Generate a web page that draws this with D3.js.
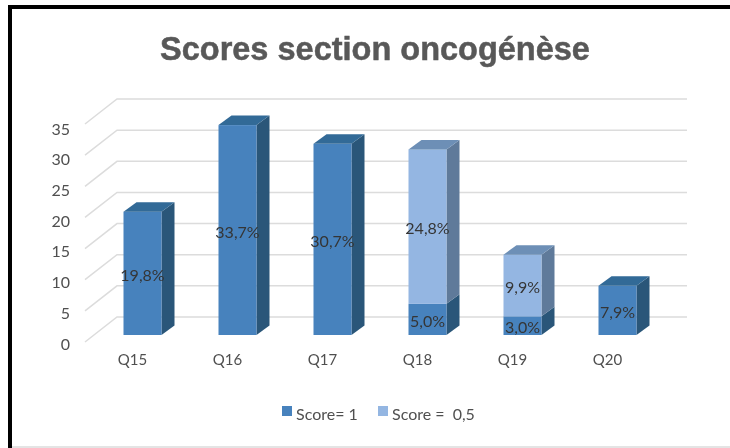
<!DOCTYPE html>
<meta charset="utf-8">
<style>
  body { margin: 0; background: #fff; }
  svg { display: block; }
  text { font-family: Lato, sans-serif; }
</style>
<script src="https://d3js.org/d3.v7.min.js"></script>
<div id="chart"></div>
<script>
var categories = ["Q15", "Q16", "Q17", "Q18", "Q19", "Q20"];
var score1 = [19.8, 33.7, 30.7, 5.0, 3.0, 7.9];
var score05 = [0, 0, 0, 24.8, 9.9, 0];
var seriesNames = ["Score= 1", "Score =  0,5"];
var yTicks = [0, 5, 10, 15, 20, 25, 30, 35];
var titleText = "Scores section oncogénèse";

var width = 730, height = 448;

var svg = d3.select("#chart").append("svg")
  .attr("width", width)
  .attr("height", height);

var defs = svg.append("defs");
defs.append("filter").attr("id", "soft")
  .attr("x", "-5%").attr("y", "-5%").attr("width", "110%").attr("height", "110%")
  .append("feGaussianBlur").attr("stdDeviation", 0.7);

var root = svg.append("g").attr("filter", "url(#soft)");

// picture frame
root.append("rect").attr("x", 12).attr("y", 446).attr("width", 718).attr("height", 2).attr("fill", "#e4e4e4");
root.append("rect").attr("x", 8).attr("y", 5).attr("width", 722).attr("height", 4).attr("fill", "#000");
root.append("rect").attr("x", 8).attr("y", 5).attr("width", 4).attr("height", 443).attr("fill", "#000");

root.append("text")
  .attr("x", 375).attr("y", 60)
  .attr("text-anchor", "middle")
  .style("font-family", "'Liberation Sans', sans-serif")
  .style("font-weight", "bold")
  .style("font-size", "32.5px")
  .attr("fill", "#595959")
  .attr("stroke", "#595959")
  .attr("stroke-width", 0.5)
  .text(titleText);

// front plane of the 3d box
var x = d3.scaleBand().domain(categories).range([85, 655]).paddingInner(0.6).paddingOuter(0.3);
var y = d3.scaleLinear().domain([0, 35]).range([342, 124]);
var yLabel = d3.scaleLinear().domain([0, 35]).range([344, 129]);

// depth offsets: back wall and bar faces
var wallDx = 32, wallDy = -25;
var barDx = 10, barDy = -7;
var sideDx = 13, sideDy = -9.5;

// gridlines on the wall and floor/side diagonal
var grid = root.append("g");
yTicks.forEach(function(t) {
  var pts = [[85, y(t)], [85 + wallDx, y(t) + wallDy], [655 + wallDx, y(t) + wallDy]];
  grid.append("path")
    .attr("d", d3.line()(pts))
    .attr("fill", "none")
    .attr("stroke", "#dcdcdc")
    .attr("stroke-width", 1.5);
});

var table = categories.map(function(c, i) {
  return { cat: c, s1: score1[i], s05: score05[i] };
});
var stacked = d3.stack().keys(["s1", "s05"])(table);

var colors = [
  { front: "#4782bd", side: "#2b5779", top: "#336a97" },
  { front: "#94b6e2", side: "#5f7a9a", top: "#6d8fb6" }
];

var bars = root.append("g");
categories.forEach(function(c, i) {
  stacked.forEach(function(layer, k) {
    var d = layer[i];
    if (d[1] - d[0] <= 0) return;
    var col = colors[k];
    var x0 = x(c) + barDx, x1 = x0 + x.bandwidth();
    var yb = y(d[0]) + barDy, yt = y(d[1]) + barDy;
    bars.append("path")
      .attr("d", d3.line()([[x1, yb], [x1 + sideDx, yb + sideDy], [x1 + sideDx, yt + sideDy], [x1, yt]]) + "Z")
      .attr("fill", col.side);
    bars.append("rect")
      .attr("x", x0).attr("y", yt)
      .attr("width", x.bandwidth()).attr("height", yb - yt)
      .attr("fill", col.front);
    var isTop = k === 1 || score05[i] === 0;
    if (isTop) {
      bars.append("path")
        .attr("d", d3.line()([[x0, yt], [x0 + sideDx, yt + sideDy], [x1 + sideDx, yt + sideDy], [x1, yt]]) + "Z")
        .attr("fill", col.top);
    }
  });
});

// data labels
var labels = root.append("g");
stacked.forEach(function(layer) {
  layer.forEach(function(d) {
    var v = d[1] - d[0];
    if (v <= 0) return;
    labels.append("text")
      .attr("x", x(d.data.cat) + barDx + x.bandwidth() / 2)
      .attr("y", (y(d[0]) + y(d[1])) / 2 + barDy + 2)
      .attr("dy", "0.35em")
      .attr("text-anchor", "middle")
      .attr("fill", "#353535")
      .style("font-size", "16px")
      .text(v.toFixed(1).replace(".", ",") + "%");
  });
});

// axes
var yAxis = root.append("g")
  .attr("transform", "translate(70,0)")
  .call(d3.axisLeft(yLabel).tickValues(yTicks).tickSize(0).tickPadding(0));
yAxis.select(".domain").remove();
yAxis.selectAll("text").attr("fill", "#505050").style("font-size", "16px");

var xAxis = root.append("g")
  .attr("transform", "translate(0,354)")
  .call(d3.axisBottom(x).tickSize(0).tickPadding(0));
xAxis.select(".domain").remove();
xAxis.selectAll("text").attr("fill", "#505050").style("font-size", "15px");

// legend
var legendX = [282, 378];
seriesNames.forEach(function(name, i) {
  root.append("rect")
    .attr("x", legendX[i]).attr("y", 406)
    .attr("width", 10).attr("height", 10)
    .attr("fill", colors[i].front);
  root.append("text")
    .attr("x", legendX[i] + 14).attr("y", 420)
    .attr("fill", "#505050")
    .style("font-size", "16px")
    .style("white-space", "pre")
    .text(name);
});
</script>
